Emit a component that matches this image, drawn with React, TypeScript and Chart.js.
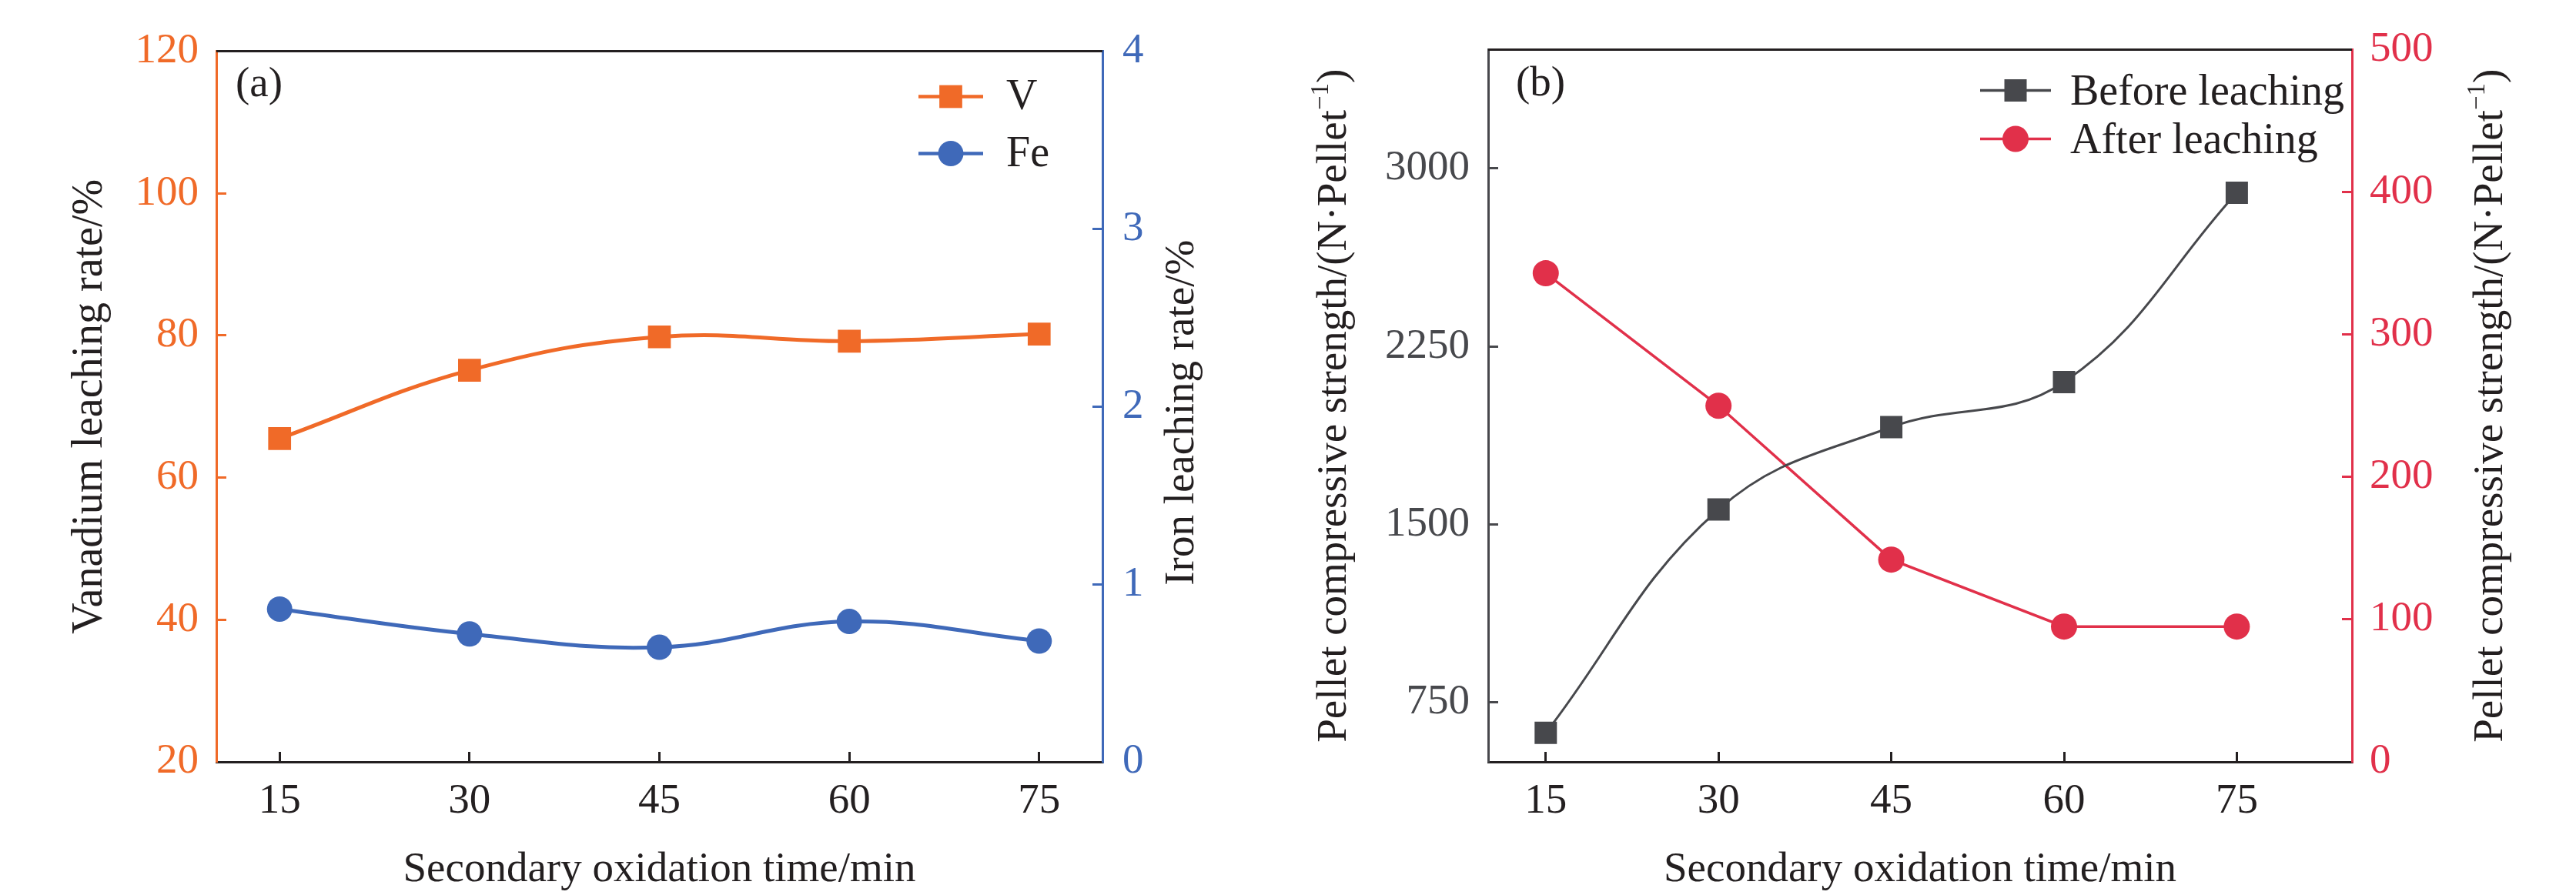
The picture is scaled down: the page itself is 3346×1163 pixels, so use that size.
import React, { useEffect, useRef } from 'react';
import { Chart, registerables } from 'chart.js';

Chart.register(...registerables);

const FONT = '"Liberation Serif", "Times New Roman", serif';
const ORANGE = '#F06A28';
const BLUE = '#3F69B9';
const RED = '#E1304A';
const GRAY = '#47484C';
const INK = '#231F20';

// oxidation time, min
const times = [15, 30, 45, 60, 75];
const timeTicks = [15, 30, 45, 60, 75];

// panel (a): leaching rates, %
const vanadiumRate = [65.5, 75.1, 79.8, 79.2, 80.2];
const ironRate = [0.86, 0.72, 0.645, 0.79, 0.68];

// panel (b): pellet compressive strength, N per pellet
const strengthBefore = [622, 1563, 1910, 2100, 2897];
const strengthAfter = [343, 250, 142, 95, 95];
const strengthTicks = [750, 1500, 2250, 3000];

type Part = { text: string; scale?: number; rise?: number };
type TitleSpec = {
  parts: Part[];
  at: (a: any) => { x: number; y: number };
  rotate: boolean;
  size: number;
};
type LegendSpec = { cx: number; rows: number[]; half: number; lineWidth: number; textX: number; baseline: number };
type DecorSpec = { label: string; labelX: number; labelY: number; titles: TitleSpec[]; legend: LegendSpec };

const drawTitle = (ctx: CanvasRenderingContext2D, t: TitleSpec, x: number, y: number) => {
  ctx.save();
  ctx.translate(x, y);
  if (t.rotate) ctx.rotate(-Math.PI / 2);
  ctx.textBaseline = 'alphabetic';
  ctx.textAlign = 'left';
  ctx.fillStyle = INK;
  const widths = t.parts.map(p => {
    ctx.font = `${t.size * (p.scale ?? 1)}px ${FONT}`;
    return ctx.measureText(p.text).width;
  });
  const total = widths.reduce((s, w) => s + w, 0);
  let cx = -total / 2;
  t.parts.forEach((p, i) => {
    ctx.font = `${t.size * (p.scale ?? 1)}px ${FONT}`;
    ctx.fillText(p.text, cx, -(p.rise ?? 0) * t.size);
    cx += widths[i];
  });
  ctx.restore();
};

const makeDecor = (spec: DecorSpec) => ({
  id: 'decor',
  afterDraw(chart: any) {
    const { ctx, chartArea } = chart;
    ctx.save();
    // top frame line
    ctx.strokeStyle = INK;
    ctx.lineWidth = 3;
    ctx.beginPath();
    ctx.moveTo(chartArea.left, chartArea.top);
    ctx.lineTo(chartArea.right, chartArea.top);
    ctx.stroke();

    // panel label
    ctx.fillStyle = INK;
    ctx.font = `55px ${FONT}`;
    ctx.textBaseline = 'alphabetic';
    ctx.textAlign = 'left';
    ctx.fillText(spec.label, chartArea.left + spec.labelX, chartArea.top + spec.labelY);

    // axis titles
    spec.titles.forEach(t => {
      const p = t.at(chartArea);
      drawTitle(ctx, t, p.x, p.y);
    });

    // legend: line - marker - line, then text
    const lg = spec.legend;
    chart.data.datasets.forEach((ds: any, i: number) => {
      const x = chartArea.right + lg.cx;
      const y = chartArea.top + lg.rows[i];
      ctx.strokeStyle = ds.borderColor;
      ctx.lineWidth = lg.lineWidth;
      ctx.beginPath();
      ctx.moveTo(x - lg.half, y);
      ctx.lineTo(x + lg.half, y);
      ctx.stroke();
      ctx.fillStyle = ds.borderColor;
      ctx.beginPath();
      if (ds.pointStyle === 'rect') {
        const s = ds.pointRadius * Math.SQRT1_2;
        ctx.rect(x - s, y - s, 2 * s, 2 * s);
      } else {
        ctx.arc(x, y, ds.pointRadius, 0, Math.PI * 2);
      }
      ctx.fill();
      ctx.fillStyle = INK;
      ctx.font = `56px ${FONT}`;
      ctx.fillText(ds.label, chartArea.right + lg.textX, y + lg.baseline);
    });
    ctx.restore();
  },
});

const tickFont = { family: FONT, size: 55, lineHeight: 1 };

const axis = (color: string, extra: any) => ({
  type: 'linear',
  grid: { drawOnChartArea: false, tickLength: -13, tickWidth: 3, tickColor: color },
  border: { color, width: 3 },
  ...extra,
  ticks: {
    color,
    font: tickFont,
    autoSkip: false,
    maxRotation: 0,
    callback: (v: number) => String(v),
    ...extra.ticks,
  },
});

const timeAxis = (max: number) =>
  axis(INK, {
    position: 'bottom',
    min: 10,
    max,
    afterBuildTicks: (s: any) => {
      s.ticks = timeTicks.map(value => ({ value }));
    },
    afterFit: (s: any) => {
      s.height = 173;
    },
    ticks: { padding: 37 },
  });

const xTitle = (): TitleSpec => ({
  parts: [{ text: 'Secondary oxidation time/min' }],
  at: a => ({ x: (a.left + a.right) / 2, y: a.bottom + 155 }),
  rotate: false,
  size: 55,
});

const strengthParts: Part[] = [
  { text: 'Pellet compressive strength/(N·Pellet' },
  { text: '−1', scale: 0.6, rise: 0.42 },
  { text: ')' },
];

const configA: any = {
  type: 'line',
  data: {
    datasets: [
      {
        label: 'V',
        data: times.map((t, i) => ({ x: t, y: vanadiumRate[i] })),
        yAxisID: 'yV',
        borderColor: ORANGE,
        backgroundColor: ORANGE,
        borderWidth: 5,
        tension: 0.4,
        pointStyle: 'rect',
        pointRadius: 21,
        pointBorderWidth: 0,
        pointBackgroundColor: ORANGE,
      },
      {
        label: 'Fe',
        data: times.map((t, i) => ({ x: t, y: ironRate[i] })),
        yAxisID: 'yFe',
        borderColor: BLUE,
        backgroundColor: BLUE,
        borderWidth: 5,
        tension: 0.4,
        pointStyle: 'circle',
        pointRadius: 16.5,
        pointBorderWidth: 0,
        pointBackgroundColor: BLUE,
      },
    ],
  },
  options: {
    animation: false,
    responsive: true,
    maintainAspectRatio: false,
    layout: { padding: { top: 29, left: 0, right: 0, bottom: 0 } },
    plugins: { legend: { display: false }, tooltip: { enabled: false } },
    scales: {
      x: timeAxis(80),
      yV: axis(ORANGE, {
        position: 'left',
        min: 20,
        max: 120,
        afterFit: (s: any) => {
          s.width = 281;
        },
        ticks: { stepSize: 20, padding: 36 },
      }),
      yFe: axis(BLUE, {
        position: 'right',
        min: 0,
        max: 4,
        afterFit: (s: any) => {
          s.width = 208;
        },
        ticks: { stepSize: 1, padding: 39 },
      }),
    },
  },
  plugins: [
    makeDecor({
      label: '(a)',
      labelX: 25,
      labelY: 58,
      titles: [
        { parts: [{ text: 'Vanadium leaching rate/%' }], at: a => ({ x: a.left - 149, y: (a.top + a.bottom) / 2 }), rotate: true, size: 56 },
        { parts: [{ text: 'Iron leaching rate/%' }], at: a => ({ x: a.right + 118, y: (a.top + a.bottom) / 2 + 8 }), rotate: true, size: 55 },
        xTitle(),
      ],
      legend: { cx: -197, rows: [59, 133], half: 42, lineWidth: 4.5, textX: -125, baseline: 16 },
    }),
  ],
};

const configB: any = {
  type: 'line',
  data: {
    datasets: [
      {
        label: 'Before leaching',
        data: times.map((t, i) => ({ x: t, y: strengthBefore[i] })),
        yAxisID: 'yB',
        borderColor: GRAY,
        backgroundColor: GRAY,
        borderWidth: 3,
        tension: 0.4,
        pointStyle: 'rect',
        pointRadius: 20.5,
        pointBorderWidth: 0,
        pointBackgroundColor: GRAY,
      },
      {
        label: 'After leaching',
        data: times.map((t, i) => ({ x: t, y: strengthAfter[i] })),
        yAxisID: 'yA',
        borderColor: RED,
        backgroundColor: RED,
        borderWidth: 3.5,
        tension: 0,
        pointStyle: 'circle',
        pointRadius: 17,
        pointBorderWidth: 0,
        pointBackgroundColor: RED,
      },
    ],
  },
  options: {
    animation: false,
    responsive: true,
    maintainAspectRatio: false,
    layout: { padding: { top: 29, left: 0, right: 0, bottom: 0 } },
    plugins: { legend: { display: false }, tooltip: { enabled: false } },
    scales: {
      x: timeAxis(85),
      yB: axis(GRAY, {
        position: 'left',
        min: 500,
        max: 3500,
        afterBuildTicks: (s: any) => {
          s.ticks = strengthTicks.map(value => ({ value }));
        },
        afterFit: (s: any) => {
          s.width = 293;
        },
        ticks: { padding: 37 },
      }),
      yA: axis(RED, {
        position: 'right',
        min: 0,
        max: 500,
        afterFit: (s: any) => {
          s.width = 291;
        },
        ticks: { stepSize: 100, padding: 36 },
      }),
    },
  },
  plugins: [
    makeDecor({
      label: '(b)',
      labelX: 36,
      labelY: 59,
      titles: [
        { parts: strengthParts, at: a => ({ x: a.left - 185, y: (a.top + a.bottom) / 2 }), rotate: true, size: 55 },
        { parts: strengthParts, at: a => ({ x: a.right + 195, y: (a.top + a.bottom) / 2 }), rotate: true, size: 55 },
        xTitle(),
      ],
      legend: { cx: -437, rows: [53, 116], half: 46, lineWidth: 3.5, textX: -366, baseline: 18 },
    }),
  ],
};

const Panel: React.FC<{ config: any; left: number; width: number }> = ({ config, left, width }) => {
  const canvasRef = useRef<HTMLCanvasElement | null>(null);

  useEffect(() => {
    const ctx = canvasRef.current?.getContext('2d');
    if (!ctx) return;
    const chart = new Chart(ctx, config);
    return () => chart.destroy();
  }, [config]);

  return (
    <div style={{ position: 'absolute', left, top: 0, width, height: 1163 }}>
      <canvas ref={canvasRef}></canvas>
    </div>
  );
};

const App: React.FC = () => {
  useEffect(() => {
    document.body.style.margin = '0';
    document.body.style.overflow = 'hidden';
  }, []);

  return (
    <div style={{ position: 'fixed', left: 0, top: 0, width: 3346, height: 1163, background: '#fff', overflow: 'hidden' }}>
      <Panel config={configA} left={0} width={1640} />
      <Panel config={configB} left={1640} width={1706} />
    </div>
  );
};

export default App;
